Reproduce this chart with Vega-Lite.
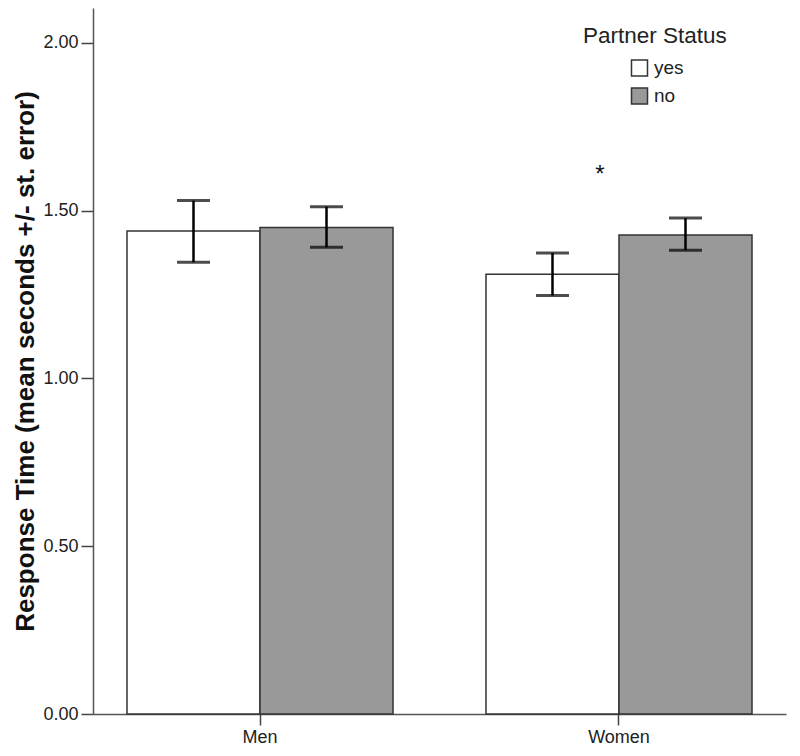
{
  "$schema": "https://vega.github.io/schema/vega-lite/v6.json",
  "autosize": {"type": "none"},
  "width": 693,
  "height": 706,
  "padding": {"left": 93, "top": 8, "right": 14, "bottom": 42},
  "background": "white",
  "config": {
    "view": {"stroke": null},
    "font": "Liberation Sans",
    "axis": {"labelFont": "Liberation Sans", "titleFont": "Liberation Sans", "labelColor": "#222", "titleColor": "#111", "domainColor": "#555", "tickColor": "#444", "domainWidth": 1.5, "tickWidth": 1.5, "grid": false}
  },
  "data": {
    "values": [
      {"sex": "Men", "partner": "yes", "mean": 1.4396, "lo": 1.346, "hi": 1.530},
      {"sex": "Men", "partner": "no", "mean": 1.4495, "lo": 1.391, "hi": 1.512},
      {"sex": "Women", "partner": "yes", "mean": 1.3106, "lo": 1.247, "hi": 1.374},
      {"sex": "Women", "partner": "no", "mean": 1.4277, "lo": 1.382, "hi": 1.478}
    ]
  },
  "encoding": {
    "x": {
      "field": "sex", "type": "nominal", "sort": ["Men", "Women"],
      "scale": {"paddingInner": 0.259, "paddingOuter": 0.0947},
      "axis": {"title": null, "labelAngle": 0, "labelFontSize": 18, "tickSize": 11, "labelPadding": 3}
    },
    "xOffset": {"field": "partner", "type": "nominal", "sort": ["yes", "no"], "scale": {"paddingInner": 0, "paddingOuter": 0}}
  },
  "layer": [
    {
      "mark": {"type": "bar", "stroke": "#333", "strokeWidth": 1.5},
      "encoding": {
        "y": {
          "field": "mean", "type": "quantitative",
          "scale": {"domain": [0, 2.104], "nice": false},
          "axis": {
            "title": "Response Time (mean seconds +/- st. error)",
            "titleFontSize": 26, "titleFontWeight": "bold", "titlePadding": 4,
            "values": [0, 0.5, 1, 1.5, 2], "format": ".2f",
            "labelFontSize": 18, "tickSize": 12, "labelPadding": 3
          }
        },
        "fill": {
          "field": "partner", "type": "nominal",
          "scale": {"domain": ["yes", "no"], "range": ["#ffffff", "#999999"]},
          "legend": {
            "title": "Partner Status", "orient": "none", "legendX": 490, "legendY": 17,
            "titleFontSize": 22.5, "titleFontWeight": "normal", "titleColor": "#222", "titlePadding": 11,
            "symbolType": "square", "symbolSize": 256, "symbolStrokeColor": "#333", "symbolStrokeWidth": 1.5,
            "symbolOffset": 47, "labelFontSize": 19, "labelColor": "#222", "labelOffset": 5, "rowPadding": 5
          }
        }
      }
    },
    {
      "mark": {"type": "rule", "color": "#000", "strokeWidth": 2.5},
      "encoding": {
        "y": {"field": "lo", "type": "quantitative"},
        "y2": {"field": "hi"}
      }
    },
    {
      "mark": {"type": "tick", "color": "#000", "thickness": 3, "size": 33, "orient": "horizontal"},
      "encoding": {"y": {"field": "lo", "type": "quantitative"}}
    },
    {
      "mark": {"type": "tick", "color": "#000", "thickness": 3, "size": 33, "orient": "horizontal"},
      "encoding": {"y": {"field": "hi", "type": "quantitative"}}
    },
    {
      "data": {"values": [{"sex": "Women", "label": "*", "pos": 1.585}]},
      "mark": {"type": "text", "fontSize": 24, "baseline": "alphabetic", "dx": -19, "color": "#111"},
      "encoding": {
        "xOffset": null,
        "y": {"field": "pos", "type": "quantitative"},
        "text": {"field": "label"}
      }
    }
  ]
}
